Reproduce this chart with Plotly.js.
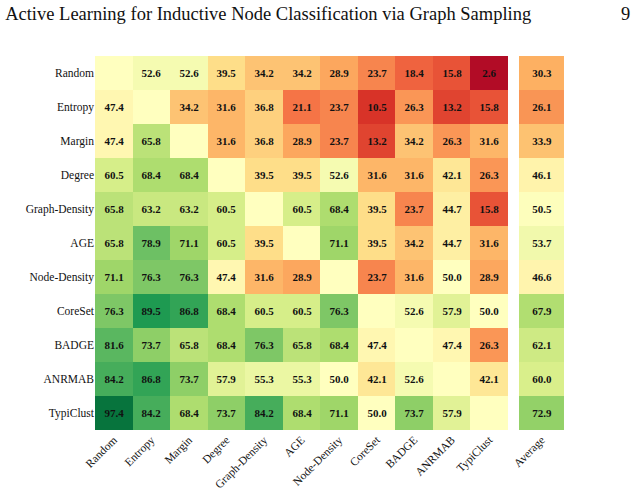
<!DOCTYPE html>
<html>
<head>
<meta charset="utf-8">
<script src="https://cdn.plot.ly/plotly-3.0.1.min.js"></script>
<style>html,body{margin:0;padding:0;background:#fff;}#chart{width:644px;height:492px;}</style>
</head>
<body>
<div id="chart"></div>
<script>
const methods = ["Random","Entropy","Margin","Degree","Graph-Density","AGE","Node-Density","CoreSet","BADGE","ANRMAB","TypiClust"];
const rowRandom      = [null, 52.6, 52.6, 39.5, 34.2, 34.2, 28.9, 23.7, 18.4, 15.8, 2.6];
const rowEntropy     = [47.4, null, 34.2, 31.6, 36.8, 21.1, 23.7, 10.5, 26.3, 13.2, 15.8];
const rowMargin      = [47.4, 65.8, null, 31.6, 36.8, 28.9, 23.7, 13.2, 34.2, 26.3, 31.6];
const rowDegree      = [60.5, 68.4, 68.4, null, 39.5, 39.5, 52.6, 31.6, 31.6, 42.1, 26.3];
const rowGraphDens   = [65.8, 63.2, 63.2, 60.5, null, 60.5, 68.4, 39.5, 23.7, 44.7, 15.8];
const rowAGE         = [65.8, 78.9, 71.1, 60.5, 39.5, null, 71.1, 39.5, 34.2, 44.7, 31.6];
const rowNodeDens    = [71.1, 76.3, 76.3, 47.4, 31.6, 28.9, null, 23.7, 31.6, 50.0, 28.9];
const rowCoreSet     = [76.3, 89.5, 86.8, 68.4, 60.5, 60.5, 76.3, null, 52.6, 57.9, 50.0];
const rowBADGE       = [81.6, 73.7, 65.8, 68.4, 76.3, 65.8, 68.4, 47.4, null, 47.4, 26.3];
const rowANRMAB      = [84.2, 86.8, 73.7, 57.9, 55.3, 55.3, 50.0, 42.1, 52.6, null, 42.1];
const rowTypiClust   = [97.4, 84.2, 68.4, 73.7, 84.2, 68.4, 71.1, 50.0, 73.7, 57.9, null];
const averages       = [30.3, 26.1, 33.9, 46.1, 50.5, 53.7, 46.6, 67.9, 62.1, 60.0, 72.9];
const avgLabel = ["Average"];

const z = [rowRandom,rowEntropy,rowMargin,rowDegree,rowGraphDens,rowAGE,rowNodeDens,rowCoreSet,rowBADGE,rowANRMAB,rowTypiClust];
const txt = z.map(r => r.map(v => v === null ? "" : v.toFixed(1)));
const zAvg = averages.map(v => [v]);
const txtAvg = averages.map(v => [v.toFixed(1)]);

const cols = ["#a50026","#d73027","#f46d43","#fdae61","#fee08b","#ffffbf","#d9ef8b","#a6d96a","#66bd63","#1a9850","#006837"];
const scale = cols.map((c,i) => [i/(cols.length-1), c]);
const serif = "Liberation Serif";

const cellFont = {family: serif, size: 11, color: "#111111", weight: "bold"};
const tmpl = "<span style='color:#111111'><b>%{text}</b></span>";
const main = {
  type: "heatmap", x: methods, y: methods, z: z, text: txt,
  texttemplate: tmpl, textfont: cellFont,
  colorscale: scale, zmin: 0, zmax: 100, showscale: false, xgap: 0, ygap: 0,
  hoverongaps: false, xaxis: "x", yaxis: "y"
};
const avg = {
  type: "heatmap", x: avgLabel, y: methods, z: zAvg, text: txtAvg,
  texttemplate: tmpl, textfont: cellFont,
  colorscale: scale, zmin: 0, zmax: 100, showscale: false,
  xaxis: "x2", yaxis: "y2"
};
const axCommon = {showgrid: false, zeroline: false, showline: false, ticks: "",
  tickfont: {family: serif, size: 11.5, color: "#111"}};
const layout = {
  width: 644, height: 492,
  margin: {l: 95, r: 80, t: 56, b: 62},
  paper_bgcolor: "#fff", plot_bgcolor: "#ffffbf",
  font: {family: serif},
  title: {text: "Active Learning for Inductive Node Classification via Graph Sampling",
    x: 0.008, xanchor: "left", y: 0.972, yanchor: "middle",
    font: {family: serif, size: 18.5, color: "#111"}},
  xaxis: Object.assign({}, axCommon, {domain: [0, 0.8806], tickangle: -45, type: "category"}),
  yaxis: Object.assign({}, axCommon, {autorange: "reversed", type: "category"}),
  xaxis2: Object.assign({}, axCommon, {domain: [0.904, 1], tickangle: -45, anchor: "y2", type: "category"}),
  yaxis2: Object.assign({}, axCommon, {autorange: "reversed", anchor: "x2", showticklabels: false, type: "category"}),
  annotations: [{text: "9", xref: "paper", yref: "paper", x: 1.145, y: 1.112, xanchor: "right", yanchor: "middle",
    showarrow: false, font: {family: serif, size: 18.5, color: "#111"}}]
};
Plotly.newPlot("chart", [main, avg], layout, {displayModeBar: false, staticPlot: true});
</script>
</body>
</html>
